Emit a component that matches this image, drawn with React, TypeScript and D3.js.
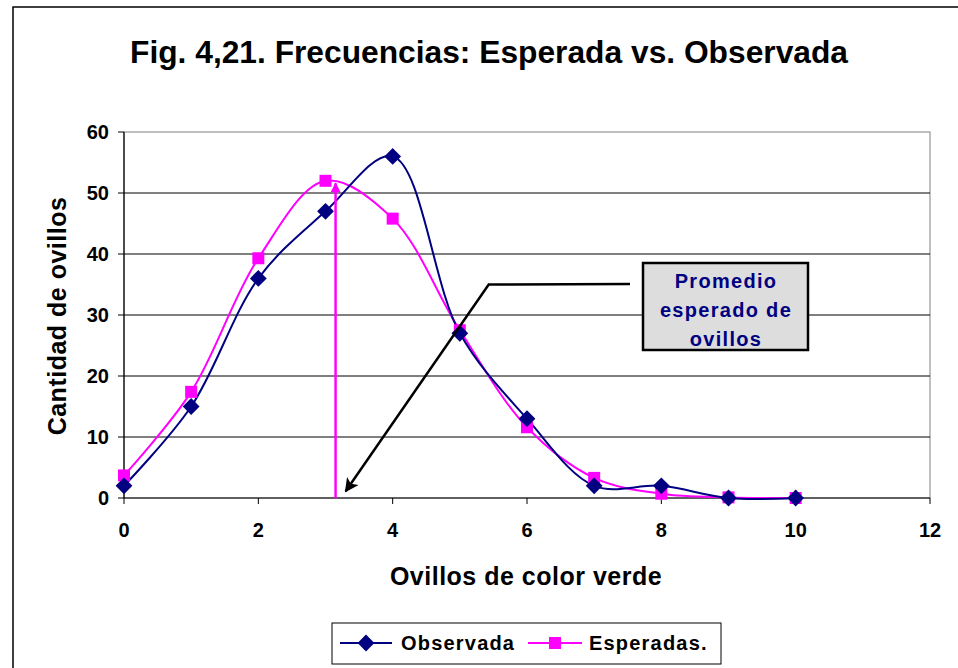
import * as d3 from "d3";

const categories = [0, 1, 2, 3, 4, 5, 6, 7, 8, 9, 10];
const observada = [2, 15, 36, 47, 56, 27, 13, 2, 2, 0, 0];
const esperadas = [3.7, 17.4, 39.3, 52, 45.8, 27.5, 11.6, 3.3, 0.7, 0.1, 0.0];
const xTicks = [0, 2, 4, 6, 8, 10, 12];
const yTicks = [0, 10, 20, 30, 40, 50, 60];
const promedio = 3.15;

const W = 958;
const H = 668;
const font = "'Liberation Sans', Arial, sans-serif";
const NAVY = "#000080";
const MAGENTA = "#FF00FF";

export default function App() {
  const x = d3.scaleLinear().domain([0, 12]).range([124, 930]);
  const y = d3.scaleLinear().domain([0, 60]).range([498, 132]);

  const line = d3
    .line<number>()
    .x((_, i) => x(categories[i]))
    .y((d) => y(d))
    .curve(d3.curveCatmullRom.alpha(0.5));

  const diamond = d3.symbol(d3.symbolDiamond2, 180)();
  const sq = 12;

  // callout arrow (in data units)
  const corner = { x: x(5.43), y: y(35) };
  const tip = { x: x(3.3), y: y(1.1) };

  return (
    <svg
      width={W}
      height={H}
      style={{ position: "absolute", left: 0, top: 0, background: "#fff" }}
      fontFamily={font}
    >
      <defs>
        <marker id="blkbig" viewBox="0 0 10 10" refX="9" refY="5" markerWidth="16" markerHeight="14" orient="auto" markerUnits="userSpaceOnUse">
          <path d="M0,0 L10,5 L0,10 L2.5,5 Z" fill="#000" />
        </marker>
        <marker id="mag" viewBox="0 0 10 10" refX="9" refY="5" markerWidth="12" markerHeight="10" orient="auto" markerUnits="userSpaceOnUse">
          <path d="M0,0 L10,5 L0,10 Z" fill={MAGENTA} />
        </marker>
      </defs>

      {/* chart area border */}
      <rect x={13} y={7} width={W} height={H} fill="#fff" stroke="#000" strokeWidth={1.5} />

      <text
        x={489}
        y={63}
        textAnchor="middle"
        fontSize={31}
        fontWeight="bold"
        textLength={718}
        lengthAdjust="spacingAndGlyphs"
      >
        Fig. 4,21. Frecuencias: Esperada vs. Observada
      </text>

      {/* plot area border */}
      <rect x={124} y={132} width={930 - 124} height={498 - 132} fill="none" stroke="#808080" strokeWidth={1} />

      {/* gridlines */}
      {yTicks.slice(1, -1).map((t) => (
        <line key={t} x1={124} x2={930} y1={y(t)} y2={y(t)} stroke="#000" strokeWidth={1} />
      ))}

      {/* y axis */}
      <line x1={124} x2={124} y1={132} y2={498} stroke="#000" strokeWidth={1.2} />
      {yTicks.map((t) => (
        <g key={t}>
          <line x1={118} x2={124} y1={y(t)} y2={y(t)} stroke="#000" />
          <text x={109} y={y(t)} dy="0.36em" textAnchor="end" fontSize={20} fontWeight="bold">
            {t}
          </text>
        </g>
      ))}

      {/* x axis */}
      <line x1={124} x2={930} y1={498} y2={498} stroke="#000" strokeWidth={1.2} />
      {xTicks.map((t) => (
        <g key={t}>
          <line x1={x(t)} x2={x(t)} y1={498} y2={504} stroke="#000" />
          <text x={x(t)} y={537} textAnchor="middle" fontSize={20} fontWeight="bold">
            {t}
          </text>
        </g>
      ))}

      <text x={526} y={585} textAnchor="middle" fontSize={25} fontWeight="bold" letterSpacing={0.5}>
        Ovillos de color verde
      </text>
      <text
        transform={`translate(66,316) rotate(-90)`}
        textAnchor="middle"
        fontSize={25}
        fontWeight="bold"
        letterSpacing={0.5}
      >
        Cantidad de ovillos
      </text>

      {/* series */}
      <path d={line(esperadas) || ""} fill="none" stroke={MAGENTA} strokeWidth={2} />
      <path d={line(observada) || ""} fill="none" stroke={NAVY} strokeWidth={2} />
      {esperadas.map((d, i) => (
        <rect key={"e" + i} x={x(categories[i]) - sq / 2} y={y(d) - sq / 2} width={sq} height={sq} fill={MAGENTA} />
      ))}
      {observada.map((d, i) => (
        <path key={"o" + i} d={diamond || ""} transform={`translate(${x(categories[i])},${y(d)})`} fill={NAVY} />
      ))}

      {/* mean arrow */}
      <line
        x1={x(promedio)}
        x2={x(promedio)}
        y1={y(0)}
        y2={y(51.6)}
        stroke={MAGENTA}
        strokeWidth={2.5}
        markerEnd="url(#mag)"
      />

      {/* callout */}
      <polyline
        points={`630,284 ${corner.x},${corner.y} ${tip.x},${tip.y}`}
        fill="none"
        stroke="#000"
        strokeWidth={2.5}
        markerEnd="url(#blkbig)"
      />
      <rect x={643} y={263} width={165} height={87} fill="#DDDDDD" stroke="#000" strokeWidth={2.5} />
      <g fill={NAVY} fontSize={20} fontWeight="bold" textAnchor="middle" letterSpacing={1.3}>
        <text x={726} y={288}>Promedio</text>
        <text x={726} y={317}>esperado de</text>
        <text x={726} y={346}>ovillos</text>
      </g>

      {/* legend */}
      <rect x={332} y={623} width={389} height={41} fill="#fff" stroke="#000" strokeWidth={1} />
      <line x1={340} x2={392} y1={643} y2={643} stroke={NAVY} strokeWidth={2} />
      <path d={diamond || ""} transform="translate(366,643)" fill={NAVY} />
      <text x={401} y={643} dy="0.36em" fontSize={20} fontWeight="bold" letterSpacing={1.2}>
        Observada
      </text>
      <line x1={528} x2={582} y1={643} y2={643} stroke={MAGENTA} strokeWidth={2} />
      <rect x={549} y={637} width={12} height={12} fill={MAGENTA} />
      <text x={589} y={643} dy="0.36em" fontSize={20} fontWeight="bold" letterSpacing={1.2}>
        Esperadas.
      </text>
    </svg>
  );
}
